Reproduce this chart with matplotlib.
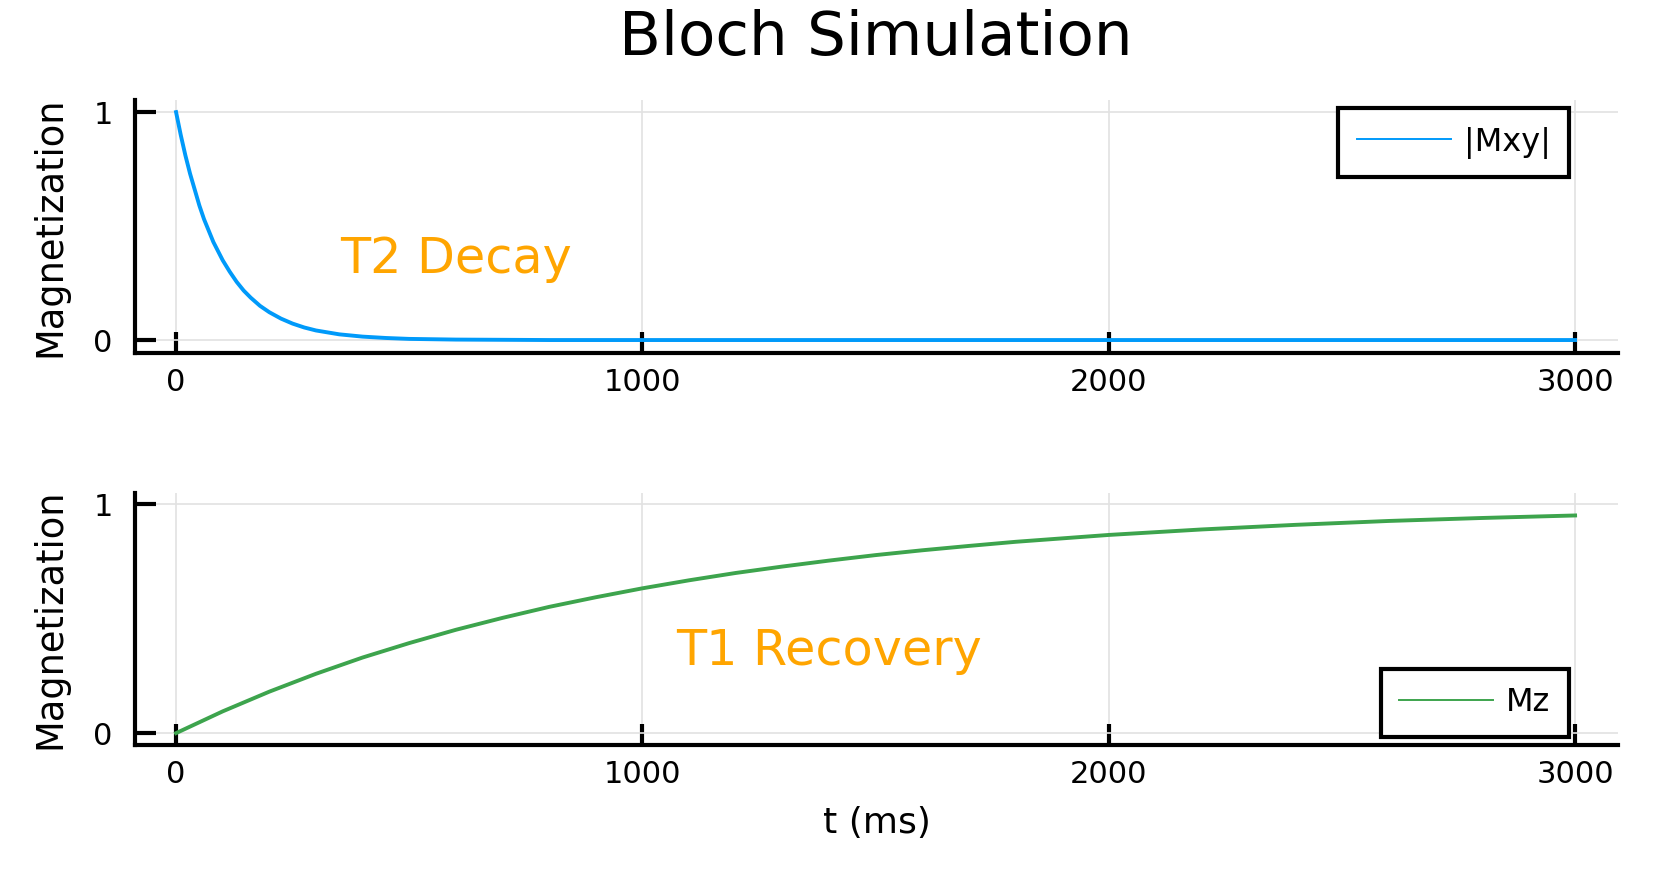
import matplotlib
matplotlib.use("Agg")
import matplotlib.pyplot as plt

# values
t_xy = [0, 10, 20, 30, 40, 50, 60, 70, 80, 90, 100, 115, 130, 145, 160, 180, 200, 225, 250,
        275, 300, 350, 400, 450, 500, 600, 700, 800, 1000, 1500, 2000, 2500, 3000]
mxy = [1.0, 0.90, 0.81, 0.73, 0.66, 0.59, 0.53, 0.48, 0.43, 0.39, 0.35, 0.30, 0.255, 0.217, 0.186,
       0.15, 0.122, 0.094, 0.072, 0.055, 0.042, 0.025, 0.015, 0.009, 0.005, 0.002, 0.001, 0.0,
       0.0, 0.0, 0.0, 0.0, 0.0]
t_z = [0, 100, 200, 300, 400, 500, 600, 700, 800, 900, 1000, 1100, 1200, 1300, 1400, 1500,
       1600, 1700, 1800, 1900, 2000, 2200, 2400, 2600, 2800, 3000]
mz = [0.0, 0.095, 0.181, 0.259, 0.33, 0.393, 0.451, 0.503, 0.551, 0.593, 0.632, 0.667, 0.699,
      0.727, 0.753, 0.777, 0.798, 0.817, 0.835, 0.85, 0.865, 0.889, 0.909, 0.926, 0.939, 0.95]
xticks = [0, 1000, 2000, 3000]
yticks = [0, 1]

blue = "#009afa"
green = "#3da44d"
orange = "#ffa500"

fig = plt.figure(figsize=(16.67, 8.76), dpi=100)
ax1 = fig.add_axes([0.0810, 0.5970, 0.8896, 0.2888])
ax2 = fig.add_axes([0.0810, 0.1495, 0.8896, 0.2877])

panels = [
    (ax1, t_xy, mxy, blue, "|Mxy|", (-0.057, 1.053), "T2 Decay", (600, 0.294), "upper right", (0.967, 0.968)),
    (ax2, t_z, mz, green, "Mz", (-0.052, 1.048), "T1 Recovery", (1400, 0.297), "lower right", (0.967, 0.032)),
]

for ax, x, y, col, lab, ylim, note, notexy, loc, anchor in panels:
    ax.plot(x, y, color=col, lw=2.8, label=lab)
    ax.set_xlim(-88, 3092)
    ax.set_ylim(*ylim)
    ax.set_xticks(xticks)
    ax.set_yticks(yticks)
    ax.grid(True, color="#e2e2e2", lw=1.2)
    ax.set_axisbelow(True)
    for s in ["top", "right"]:
        ax.spines[s].set_visible(False)
    for s in ["left", "bottom"]:
        ax.spines[s].set_linewidth(3)
    ax.tick_params(direction="in", length=15, width=3, labelsize=22)
    ax.tick_params(axis="x", pad=11)
    ax.tick_params(axis="y", pad=16)
    ax.set_ylabel("Magnetization", fontsize=26.5, labelpad=18)
    ax.text(notexy[0], notexy[1], note, color=orange, fontsize=35.5,
            ha="center", va="baseline")
    leg = ax.legend(loc=loc, bbox_to_anchor=anchor, borderaxespad=0,
                    fontsize=23, fancybox=False, framealpha=1,
                    edgecolor="black", handlelength=2.95, handletextpad=0.4,
                    borderpad=0.58)
    leg.get_frame().set_linewidth(3)
    for h in leg.get_lines():
        h.set_linewidth(1.4)

ax2.set_xlabel("t (ms)", fontsize=26, labelpad=12)
fig.text(0.5255, 0.937, "Bloch Simulation", fontsize=44, ha="center", va="baseline")

fig.savefig("out.png", dpi=100)
